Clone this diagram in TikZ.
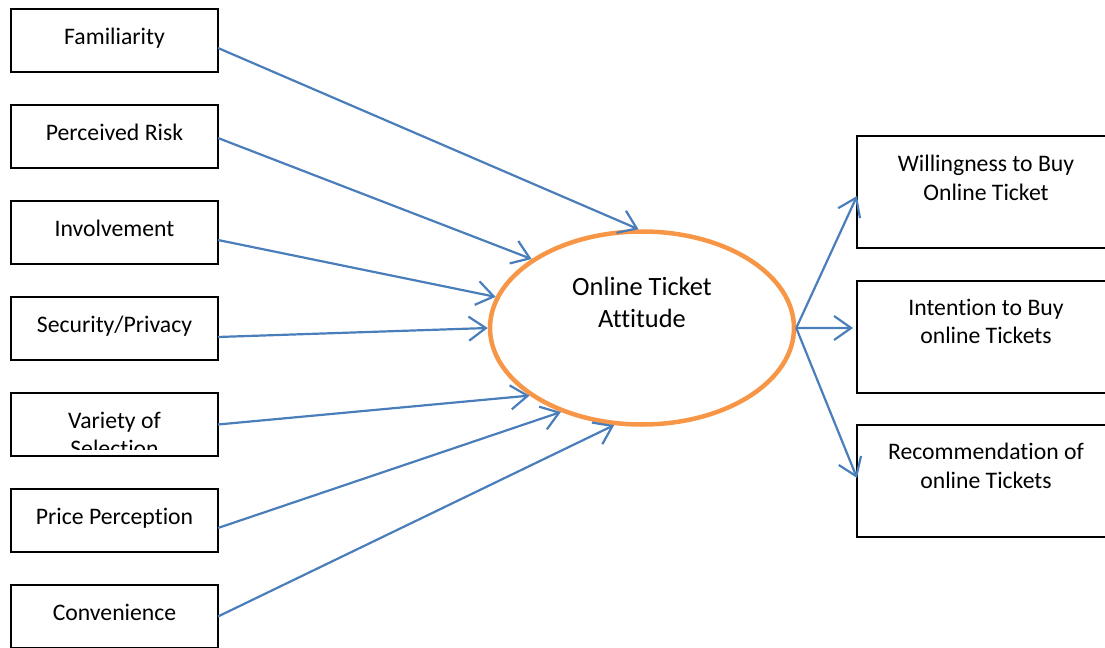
\documentclass[tikz,border=0pt]{standalone}
\usepackage{fontspec}
\setmainfont{Carlito}[Ligatures=NoCommon]
\usetikzlibrary{arrows.meta,shapes.geometric}
\definecolor{lineblue}{HTML}{4A7EBB}
\definecolor{ellorange}{HTML}{F79646}
\begin{document}
\begin{tikzpicture}[x=1bp,y=-1bp,
  box/.style={draw=black, line width=2.5bp, minimum width=207bp, minimum height=63bp, inner sep=0pt, outer sep=0pt},
  rbox/.style={draw=black, line width=2.5bp, minimum width=258bp, minimum height=112bp, inner sep=0pt, outer sep=0pt},
  lbl/.style={font=\fontsize{23.8}{28.5}\selectfont, align=center, anchor=north, inner sep=0pt},
  conn/.style={draw=lineblue, line width=2.2bp, -{Straight Barb[length=17bp,width=24bp,line width=2.2bp]}}]
\useasboundingbox (0,0) rectangle (1105,648);
\clip (0,0) rectangle (1105,648);
% left boxes
\node[box] (b1) at (114.5,40.5) {};
\node[box] (b2) at (114.5,136.5) {};
\node[box] (b3) at (114.5,232.5) {};
\node[box] (b4) at (114.5,328.5) {};
\node[box] (b5) at (114.5,424.5) {};
\node[box] (b6) at (114.5,520.5) {};
\node[box] (b7) at (114.5,616.5) {};
\node[lbl] (t1) at (114.5,28) {Familiarity};
\node[lbl] (t2) at (114.5,124) {Perceived Risk};
\node[lbl] (t3) at (114.5,220) {Involvement};
\node[lbl] (t4) at (114.5,316) {Security/Privacy};
\begin{scope}
  \clip (14,396) rectangle (215,449);
  \node[lbl] (t5) at (114.5,412) {Variety of\\Selection};
\end{scope}
\node[lbl] (t6) at (114.5,508) {Price Perception};
\node[lbl] (t7) at (114.5,604) {Convenience};
% ellipse
\node[draw=ellorange, line width=4.5bp, ellipse, minimum width=304bp, minimum height=193bp, inner sep=0pt] (att) at (642,328) {};
\node[lbl, font=\fontsize{26.5}{32}\selectfont] (attl) at (642,277) {Online Ticket\\Attitude};
% right boxes
\node[rbox] (r1) at (986,192) {};
\node[rbox] (r2) at (986,337) {};
\node[rbox] (r3) at (986,481) {};
\node[lbl] (u1) at (986,155) {Willingness to Buy\\Online Ticket};
\node[lbl] (u2) at (986,299) {Intention to Buy\\online Tickets};
\node[lbl] (u3) at (986,443) {Recommendation of\\online Tickets};
% connectors
\draw[conn] ([yshift=-7.5bp]b1.east) -- (att.92);
\draw[conn] ([yshift=-1.5bp]b2.east) -- (att.148);
\draw[conn] ([yshift=-7.5bp]b3.east) -- (att.168);
\draw[conn] ([yshift=-8.5bp]b4.east) -- (att.180);
\draw[conn] (b5.east) -- (att.211);
\draw[conn] ([yshift=-7.5bp]b6.east) -- (att.226);
\draw[conn] (b7.east) -- (att.254);
\draw[conn] (att.east) -- ([yshift=-4bp]r1.west);
\draw[conn] (att.east) -- ([xshift=-4bp,yshift=9bp]r2.west);
\draw[conn] (att.east) -- ([yshift=3bp]r3.west);
\end{tikzpicture}
\end{document}
